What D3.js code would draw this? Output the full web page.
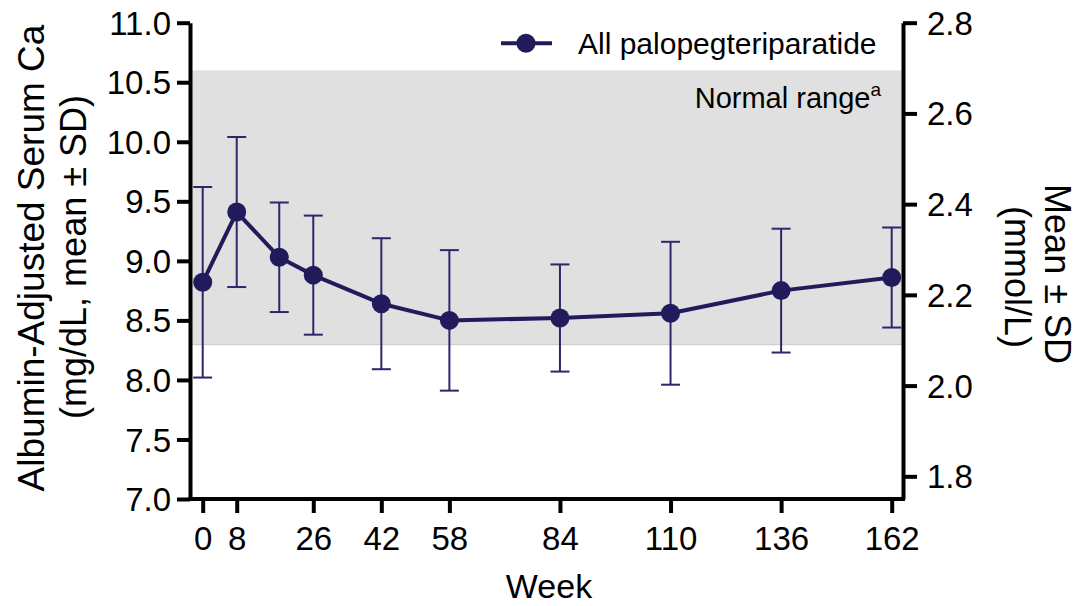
<!DOCTYPE html>
<html>
<head>
<meta charset="utf-8">
<script src="https://cdn.jsdelivr.net/npm/d3@7"></script>
<style>
  html, body { margin: 0; padding: 0; background: #ffffff; }
  svg { display: block; }
  text { font-family: "Liberation Sans", Arial, Helvetica, sans-serif; fill: #000; }
</style>
</head>
<body>
<svg id="chart" width="1079" height="606"></svg>
<script>
// Albumin-adjusted serum calcium over time, all palopegteriparatide
const weeks   = [0, 8, 18, 26, 42, 58, 84, 110, 136, 162];
const meanCa  = [8.82, 9.41, 9.03, 8.88, 8.64, 8.50, 8.52, 8.56, 8.75, 8.86];
const sdCa    = [0.80, 0.63, 0.46, 0.50, 0.55, 0.59, 0.45, 0.60, 0.52, 0.42];
const weekTicks = [0, 8, 26, 42, 58, 84, 110, 136, 162];
const mgTicks   = [7.0, 7.5, 8.0, 8.5, 9.0, 9.5, 10.0, 10.5, 11.0];
const mmolTicks = [1.8, 2.0, 2.2, 2.4, 2.6, 2.8];
const normalRange = [8.3, 10.6];
const seriesName = "All palopegteriparatide";

const navy = "#211b5c";
const barColor = "#2c276b";

const svg = d3.select("#chart");

const xLeft = 190, xRight = 903, yTop = 22.7, yBottom = 499;

const x = d3.scaleLinear().domain([0, 162]).range([202.7, 891.7]);
const y = d3.scaleLinear().domain([7, 11]).range([yBottom, yTop]);
const y2 = d3.scaleLinear().domain([1.75, 2.8]).range([yBottom, yTop]);

// normal range band
svg.append("rect")
  .attr("x", xLeft)
  .attr("y", y(normalRange[1]))
  .attr("width", xRight - xLeft)
  .attr("height", y(normalRange[0]) - y(normalRange[1]))
  .attr("fill", "#e0e0e0");
svg.append("line")
  .attr("x1", xLeft).attr("x2", xRight)
  .attr("y1", y(normalRange[0]) + 0.5).attr("y2", y(normalRange[0]) + 0.5)
  .attr("stroke", "#c6c6c6").attr("stroke-width", 1);

const nr = svg.append("text")
  .attr("x", 881).attr("y", 108)
  .attr("text-anchor", "end")
  .style("font-size", "29px");
nr.append("tspan").text("Normal range");
nr.append("tspan").attr("dy", -12).style("font-size", "19px").text("a");

// axes
function styleAxis(g) {
  g.selectAll(".domain").attr("stroke", "#000").attr("stroke-width", 4);
  g.selectAll(".tick line").attr("stroke", "#000").attr("stroke-width", 4);
  g.selectAll(".tick text").style("font-size", "33px").attr("fill", "#000");
}

const fmt1 = d3.format(".1f");

svg.append("g")
  .attr("transform", `translate(${xLeft},0)`)
  .call(d3.axisLeft(y).tickValues(mgTicks).tickFormat(fmt1).tickSize(13).tickSizeOuter(0).tickPadding(6))
  .call(styleAxis)
  .call(g => g.selectAll(".tick text").attr("dy", "0.35em"));

svg.append("g")
  .attr("transform", `translate(${xRight},0)`)
  .call(d3.axisRight(y2).tickValues(mmolTicks).tickFormat(fmt1).tickSize(14).tickSizeOuter(0).tickPadding(10))
  .call(styleAxis)
  .call(g => g.selectAll(".tick text").attr("dy", "0.35em"));

const xAxisG = svg.append("g")
  .attr("transform", `translate(0,${yBottom})`)
  .call(d3.axisBottom(x).tickValues(weekTicks).tickFormat(d3.format("d")).tickSize(14).tickSizeOuter(0).tickPadding(14))
  .call(styleAxis);
xAxisG.select(".domain").remove();
xAxisG.append("line")
  .attr("x1", xLeft - 2).attr("x2", xRight + 2)
  .attr("y1", 0).attr("y2", 0)
  .attr("stroke", "#000").attr("stroke-width", 4);

// axis titles
svg.append("text")
  .attr("transform", "translate(43.5,258) rotate(-90)")
  .attr("text-anchor", "middle")
  .style("font-size", "37px")
  .text("Albumin-Adjusted Serum Ca");
svg.append("text")
  .attr("transform", "translate(86,257) rotate(-90)")
  .attr("text-anchor", "middle")
  .style("font-size", "36px")
  .text("(mg/dL, mean ± SD)");

svg.append("text")
  .attr("transform", "translate(1045,274) rotate(90)")
  .attr("text-anchor", "middle")
  .style("font-size", "36px")
  .text("Mean ± SD");
svg.append("text")
  .attr("transform", "translate(1005,277) rotate(90)")
  .attr("text-anchor", "middle")
  .style("font-size", "36px")
  .text("(mmol/L)");

svg.append("text")
  .attr("x", 549).attr("y", 598)
  .attr("text-anchor", "middle")
  .style("font-size", "34px")
  .text("Week");

// error bars
const pts = weeks.map((w, i) => ({ w, m: meanCa[i], sd: sdCa[i] }));
const eb = svg.append("g").attr("stroke", barColor).attr("stroke-width", 2).attr("fill", "none");
pts.forEach(p => {
  const g = eb.append("g");
  g.append("line").attr("x1", x(p.w)).attr("x2", x(p.w)).attr("y1", y(p.m - p.sd)).attr("y2", y(p.m + p.sd));
  g.append("line").attr("x1", x(p.w) - 9.5).attr("x2", x(p.w) + 9.5).attr("y1", y(p.m + p.sd)).attr("y2", y(p.m + p.sd));
  g.append("line").attr("x1", x(p.w) - 9.5).attr("x2", x(p.w) + 9.5).attr("y1", y(p.m - p.sd)).attr("y2", y(p.m - p.sd));
});

// mean line and markers
svg.append("path")
  .datum(pts)
  .attr("fill", "none")
  .attr("stroke", navy)
  .attr("stroke-width", 4)
  .attr("stroke-linejoin", "round")
  .attr("d", d3.line().x(d => x(d.w)).y(d => y(d.m)));

svg.append("g").selectAll("circle")
  .data(pts)
  .join("circle")
  .attr("cx", d => x(d.w))
  .attr("cy", d => y(d.m))
  .attr("r", 9.5)
  .attr("fill", navy);

// legend
const lg = svg.append("g");
lg.append("line").attr("x1", 501).attr("x2", 552).attr("y1", 43.3).attr("y2", 43.3)
  .attr("stroke", navy).attr("stroke-width", 4);
lg.append("circle").attr("cx", 526).attr("cy", 43.3).attr("r", 9.5).attr("fill", navy);
lg.append("text").attr("x", 578).attr("y", 54)
  .style("font-size", "30px")
  .text(seriesName);
</script>
</body>
</html>
